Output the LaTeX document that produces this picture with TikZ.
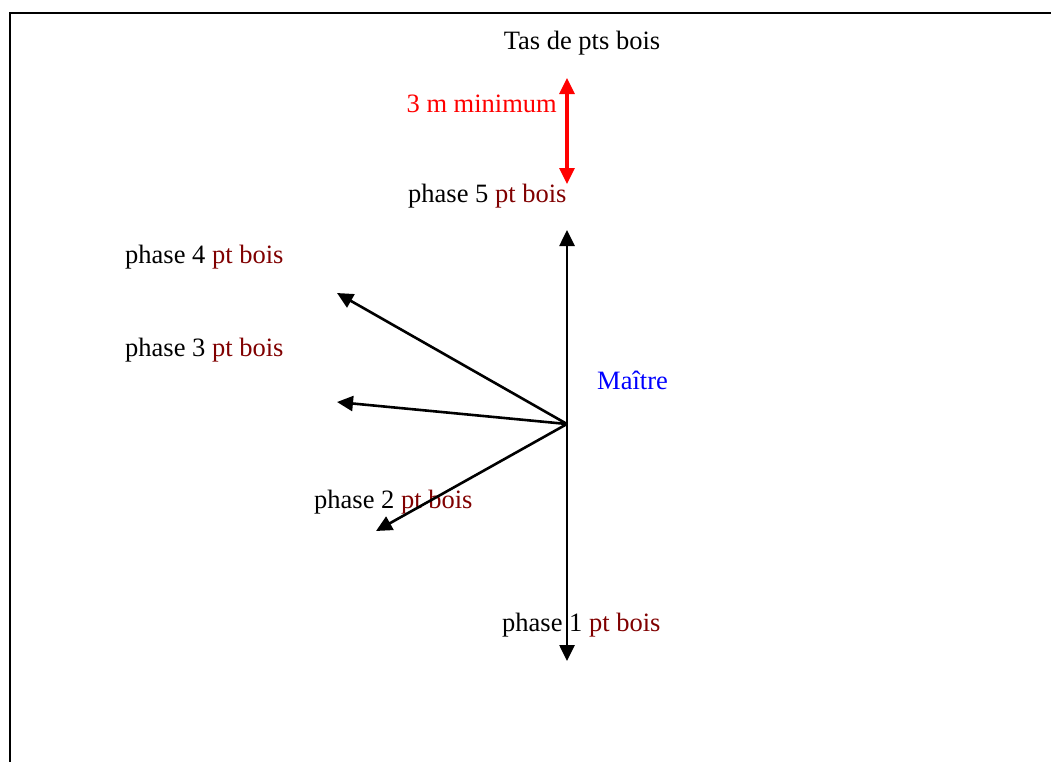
\documentclass[tikz,border=0pt]{standalone}
\usepackage{fontspec}
\setmainfont{Liberation Serif}
\usetikzlibrary{arrows.meta}
\definecolor{darkred}{RGB}{128,0,0}
\tikzset{
  lbl/.style={inner sep=0pt, font=\fontsize{26.5}{30}\selectfont},
  vec/.style={line width=2.6pt, -{Triangle[length=16pt,width=15pt]}},
  redvec/.style={line width=3.2pt, red, {Triangle[length=16pt,width=15pt]}-{Triangle[length=16pt,width=15pt]}}
}
\begin{document}
\begin{tikzpicture}[x=1pt,y=-1pt]
\useasboundingbox (0,0) rectangle (1051,761);
\draw[line width=2.4pt] (10,763) -- (10,13) -- (1053,13);
% labels
\node[lbl] (tas) at (582,43) {Tas de pts bois};
\node[lbl, red, anchor=east] (min) at (557,104) {3 m minimum};
\node[lbl, anchor=west] (p5) at (408,196) {phase 5 \textcolor{darkred}{pt bois}};
\node[lbl, anchor=west] (p4) at (125,257) {phase 4 \textcolor{darkred}{pt bois}};
\node[lbl, anchor=west] (p3) at (125,350) {phase 3 \textcolor{darkred}{pt bois}};
\node[lbl, blue, anchor=west] (maitre) at (597,380) {Maître};
\node[lbl, anchor=west] (p2) at (314,502) {phase 2 \textcolor{darkred}{pt bois}};
\node[lbl, anchor=west] (p1) at (502,625) {phase 1 \textcolor{darkred}{pt bois}};
% coordinates
\coordinate (o) at (567,424);
\coordinate (rt) at (567,78);
\coordinate (rb) at (567,184);
\coordinate (t5) at (567,230);
\coordinate (t4) at (337,293);
\coordinate (t3) at (337,402);
\coordinate (t2) at (376,531);
\coordinate (t1) at (567,661);
% arrows
\draw[redvec] (rb) -- (rt);
\draw[vec] (o) -- (t5);
\draw[vec] (o) -- (t4);
\draw[vec] (o) -- (t3);
\draw[vec] (o) -- (t2);
\draw[vec] (o) -- (t1);
\end{tikzpicture}
\end{document}
